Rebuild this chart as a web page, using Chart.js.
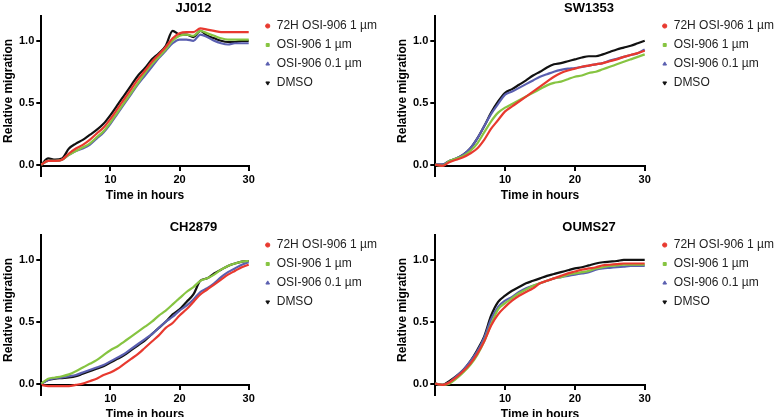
<!DOCTYPE html>
<html lang="en">
<head>
<meta charset="UTF-8">
<title>Relative migration</title>
<script src="https://cdn.jsdelivr.net/npm/chart.js"></script>
<style>
  body { margin: 0; background: #fff; }
  #wrap { position: relative; width: 776px; height: 417px; overflow: hidden; }
  .panel { position: absolute; height: 200px; }
</style>
</head>
<body>
<div id="wrap">
  <div class="panel" style="left:0;top:2px;width:387px"><canvas id="c1" width="387" height="200"></canvas></div>
  <div class="panel" style="left:394px;top:2px;width:390px"><canvas id="c2" width="390" height="200"></canvas></div>
  <div class="panel" style="left:0;top:221px;width:387px"><canvas id="c3" width="387" height="200"></canvas></div>
  <div class="panel" style="left:394px;top:221px;width:390px"><canvas id="c4" width="390" height="200"></canvas></div>
</div>
<script>
// time points (hours)
const hours = [0,1,2,3,4,5,6,7,8,9,10,11,12,13,14,15,16,17,18,19,20,21,22,23,24,25,26,27,28,29,30];
const seriesNames = ['72H OSI-906 1 µm', 'OSI-906 1 µm', 'OSI-906 0.1 µm', 'DMSO'];

// JJ012
const jjRed   = [0,0.03,0.03,0.04,0.09,0.13,0.16,0.20,0.25,0.30,0.37,0.45,0.53,0.61,0.69,0.76,0.83,0.89,0.95,1.02,1.06,1.07,1.07,1.10,1.09,1.08,1.07,1.07,1.07,1.07,1.07];
const jjGreen = [0,0.03,0.03,0.04,0.08,0.11,0.14,0.17,0.22,0.27,0.34,0.42,0.50,0.58,0.66,0.74,0.81,0.87,0.93,1.00,1.04,1.05,1.04,1.08,1.06,1.04,1.02,1.01,1.01,1.01,1.01];
const jjBlue  = [0,0.03,0.03,0.04,0.08,0.11,0.13,0.16,0.21,0.26,0.33,0.41,0.49,0.57,0.65,0.72,0.79,0.86,0.92,0.98,1.01,1.01,1.00,1.05,1.03,1.00,0.98,0.97,0.98,0.98,0.98];
const jjBlack = [0,0.05,0.04,0.05,0.13,0.17,0.20,0.24,0.28,0.33,0.40,0.48,0.56,0.64,0.72,0.78,0.85,0.90,0.96,1.08,1.05,1.05,1.03,1.08,1.04,1.02,1.00,0.99,0.99,1.00,1.00];

// SW1353
const swRed   = [0,-0.01,0.02,0.04,0.06,0.09,0.13,0.20,0.29,0.36,0.43,0.47,0.51,0.55,0.59,0.63,0.67,0.71,0.74,0.76,0.775,0.79,0.80,0.81,0.82,0.835,0.85,0.87,0.885,0.90,0.92];
const swGreen = [0,-0.01,0.03,0.05,0.07,0.11,0.17,0.26,0.35,0.42,0.46,0.49,0.52,0.55,0.58,0.61,0.64,0.66,0.67,0.69,0.71,0.72,0.74,0.75,0.77,0.79,0.81,0.83,0.85,0.87,0.89];
const swBlue  = [0,0,0.03,0.05,0.08,0.13,0.21,0.31,0.41,0.49,0.565,0.59,0.62,0.65,0.68,0.71,0.73,0.75,0.765,0.775,0.78,0.79,0.80,0.81,0.82,0.84,0.855,0.87,0.885,0.90,0.93];
const swBlack = [0,0,0.03,0.05,0.08,0.13,0.21,0.31,0.42,0.51,0.58,0.61,0.645,0.68,0.72,0.75,0.785,0.81,0.82,0.835,0.85,0.865,0.875,0.875,0.89,0.91,0.93,0.945,0.96,0.98,1.00];

// CH2879
const chRed   = [-0.01,-0.02,-0.02,-0.02,-0.02,-0.01,0,0.02,0.04,0.07,0.09,0.12,0.16,0.20,0.24,0.29,0.34,0.39,0.45,0.49,0.55,0.60,0.66,0.72,0.76,0.80,0.84,0.88,0.91,0.94,0.96];
const chGreen = [0,0.04,0.05,0.06,0.075,0.10,0.13,0.16,0.19,0.23,0.27,0.30,0.34,0.38,0.42,0.46,0.50,0.55,0.59,0.64,0.69,0.74,0.78,0.83,0.85,0.88,0.92,0.95,0.97,0.985,0.99];
const chBlue  = [0,0.03,0.045,0.05,0.06,0.07,0.09,0.11,0.13,0.15,0.18,0.21,0.24,0.28,0.32,0.36,0.40,0.45,0.50,0.54,0.59,0.63,0.68,0.74,0.77,0.81,0.86,0.90,0.93,0.96,0.98];
const chBlack = [0,0.03,0.04,0.045,0.05,0.06,0.08,0.10,0.12,0.14,0.17,0.20,0.23,0.27,0.31,0.35,0.40,0.45,0.50,0.56,0.60,0.66,0.72,0.83,0.85,0.89,0.92,0.95,0.97,0.985,0.99];

// OUMS27
const ouRed   = [0,-0.01,0.01,0.05,0.10,0.16,0.24,0.34,0.47,0.56,0.62,0.67,0.71,0.74,0.77,0.81,0.83,0.85,0.87,0.89,0.905,0.92,0.93,0.94,0.955,0.96,0.965,0.97,0.97,0.97,0.97];
const ouGreen = [0,-0.01,0,0.04,0.09,0.15,0.23,0.34,0.48,0.60,0.65,0.69,0.73,0.76,0.79,0.81,0.83,0.85,0.86,0.88,0.89,0.90,0.91,0.93,0.94,0.95,0.955,0.96,0.96,0.96,0.96];
const ouBlue  = [0,-0.01,0.01,0.06,0.11,0.18,0.26,0.37,0.52,0.62,0.67,0.70,0.74,0.77,0.79,0.81,0.83,0.85,0.86,0.87,0.88,0.89,0.90,0.92,0.93,0.935,0.94,0.945,0.95,0.95,0.95];
const ouBlack = [0,-0.01,0.02,0.06,0.11,0.18,0.27,0.38,0.55,0.66,0.71,0.75,0.78,0.81,0.83,0.85,0.87,0.885,0.90,0.915,0.93,0.94,0.955,0.97,0.98,0.985,0.99,1.00,1.00,1.00,1.00];

const colors = ['#e8392f', '#86c441', '#5a5fb0', '#111111'];
const markers = ['circle', 'rect', 'triangle', 'triangle'];
const rotations = [0, 0, 0, 180];
const FONT = "'Liberation Sans', Arial, Helvetica, sans-serif";

// y-axis line runs a bit below the x-axis, like the original
const axisTail = {
  id: 'axisTail',
  afterDraw(chart) {
    const ya = chart.scales.y, ctx = chart.ctx;
    ctx.save();
    ctx.strokeStyle = '#000';
    ctx.lineWidth = 2;
    ctx.beginPath();
    ctx.moveTo(Math.round(ya.right), chart.chartArea.bottom);
    ctx.lineTo(Math.round(ya.right), chart.chartArea.bottom + 11);
    ctx.stroke();
    ctx.restore();
  }
};

function makePanel(id, title, values, gap) {
  const datasets = values.map((v, i) => ({
    label: seriesNames[i],
    data: hours.map((h, k) => ({x: h, y: v[k]})),
    borderColor: colors[i],
    backgroundColor: colors[i],
    borderWidth: 2.2,
    pointRadius: 0,
    pointStyle: markers[i],
    pointRotation: rotations[i],
    pointBorderWidth: 1,
    cubicInterpolationMode: 'monotone',
    clip: false
  }));
  new Chart(document.getElementById(id), {
    type: 'line',
    data: { datasets },
    plugins: [axisTail],
    options: {
      responsive: false,
      animation: false,
      plugins: {
        title: {
          display: true, text: title, color: '#000',
          font: { family: FONT, size: 13, weight: 'bold', lineHeight: 1 },
          padding: { top: 0, bottom: 1 }
        },
        legend: {
          position: 'right', align: 'start', maxWidth: 200,
          title: { display: true, text: '', font: { size: 11, lineHeight: 1 }, padding: 0 },
          labels: {
            usePointStyle: true, boxWidth: 6, boxHeight: 3, padding: 7,
            color: '#222', font: { family: FONT, size: 12 }
          }
        },
        tooltip: { enabled: false }
      },
      scales: {
        x: {
          type: 'linear', min: 0, max: 30,
          border: { color: '#000', width: 2 },
          grid: { drawOnChartArea: false, color: '#000', lineWidth: 2, tickLength: 5 },
          ticks: {
            stepSize: 10, padding: 3, color: '#000', maxRotation: 0,
            font: { family: FONT, size: 11, weight: 'bold', lineHeight: 1.1 },
            callback: v => v === 0 ? '' : v
          },
          title: {
            display: true, text: 'Time in hours', color: '#000',
            font: { family: FONT, size: 12, weight: 'bold', lineHeight: 1 },
            padding: { top: 1, bottom: 0 }
          }
        },
        y: {
          min: -0.01, max: 1.2,
          border: { color: '#000', width: 2 },
          grid: { drawOnChartArea: false, color: '#000', lineWidth: 2, tickLength: 5 },
          ticks: {
            stepSize: 0.5, includeBounds: false, padding: 2, color: '#000',
            font: { family: FONT, size: 11, weight: 'bold' },
            callback: v => v.toFixed(1)
          },
          title: {
            display: true, text: 'Relative migration', color: '#000',
            font: { family: FONT, size: 12, weight: 'bold', lineHeight: 1 },
            padding: { top: 3, bottom: 2 }
          }
        },
        gap: {
          type: 'linear', position: 'right', display: true,
          grid: { display: false }, border: { display: false }, ticks: { display: false },
          afterFit: s => { s.width = gap; }
        }
      }
    }
  });
}

makePanel('c1', 'JJ012', [jjRed, jjGreen, jjBlue, jjBlack], 9);
makePanel('c2', 'SW1353', [swRed, swGreen, swBlue, swBlack], 10);
makePanel('c3', 'CH2879', [chRed, chGreen, chBlue, chBlack], 9);
makePanel('c4', 'OUMS27', [ouRed, ouGreen, ouBlue, ouBlack], 10);
</script>
</body>
</html>
